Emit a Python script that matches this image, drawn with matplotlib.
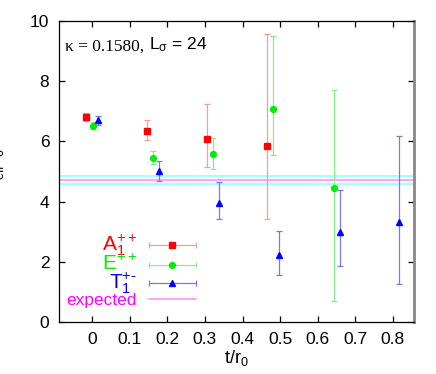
import numpy as np
import matplotlib
matplotlib.use('Agg')
import matplotlib.pyplot as plt
from matplotlib.legend_handler import HandlerErrorbar
from matplotlib.lines import Line2D

plt.rcParams['font.family'] = 'Liberation Sans'
plt.rcParams['mathtext.fontset'] = 'custom'
plt.rcParams['mathtext.rm'] = 'Liberation Sans'
plt.rcParams['mathtext.it'] = 'Liberation Sans'

# A1++ (red)
A_x = [-0.015, 0.145, 0.305, 0.465]
A_y = [6.80, 6.35, 6.07, 5.86]
A_lo = [6.67, 6.04, 5.16, 3.42]
A_hi = [6.95, 6.70, 7.23, 9.56]

# E++ (green)
E_x = [0.002, 0.161, 0.321, 0.481, 0.642]
E_y = [6.52, 5.44, 5.57, 7.08, 4.45]
E_lo = [6.40, 5.24, 5.07, 5.54, 0.69]
E_hi = [6.64, 5.67, 6.12, 9.49, 7.72]

# T1+- (blue)
T_x = [0.017, 0.177, 0.338, 0.497, 0.658, 0.817]
T_y = [6.71, 5.00, 3.96, 2.24, 2.98, 3.31]
T_lo = [6.53, 4.68, 3.41, 1.55, 1.87, 1.26]
T_hi = [6.84, 5.35, 4.64, 3.02, 4.37, 6.19]

expected = 4.72
expected_band = [4.59, 4.84]

xticks = [0, 0.1, 0.2, 0.3, 0.4, 0.5, 0.6, 0.7, 0.8]
xticklabels = ['0', '0.1', '0.2', '0.3', '0.4', '0.5', '0.6', '0.7', '0.8']
yticks = [0, 2, 4, 6, 8, 10]

fig = plt.figure(figsize=(4.36, 3.74), dpi=100)
ax = fig.add_axes([0.1353, 0.139, 0.8142, 0.8049])

for yb in expected_band:
    ax.axhline(yb, color='#88ffff', lw=1.1, zorder=1)
ax.axhline(expected, color='#ff88ff', lw=1.1, zorder=1)

def err(y, lo, hi):
    y = np.array(y); return [y - np.array(lo), np.array(hi) - y]

series = [
    (A_x, A_y, A_lo, A_hi, 's', '#ff0000', '#ff9999', r'$\mathregular{A_1^{++}}$'),
    (E_x, E_y, E_lo, E_hi, 'o', '#00ee00', '#88ee88', r'$\mathregular{E^{++}}$'),
    (T_x, T_y, T_lo, T_hi, '^', '#0000ff', '#7777ee', r'$\mathregular{T_1^{+\text{-}}}$'),
]
handles = []
labels = []
for x, y, lo, hi, m, c, ec, lab in series:
    ax.errorbar(x, y, yerr=err(y, lo, hi), fmt=m, ms=4.2, mfc=c, mec=c,
                ecolor=ec, elinewidth=0.9, capsize=2.2, capthick=0.9, zorder=3)
    h = ax.errorbar([np.nan], [np.nan], xerr=[np.nan], fmt=m, ms=4.2, mfc=c, mec=c,
                    ecolor=ec, elinewidth=0.9, capsize=2.2, capthick=0.9)
    handles.append(h)
    labels.append(lab)
handles.append(Line2D([], [], color='#ff88ff', lw=1.1))
labels.append('expected')

leg = ax.legend(handles, labels, loc='lower right', bbox_to_anchor=(0.41, 0.02),
                frameon=False, markerfirst=False, fontsize=12, handlelength=2.85,
                handletextpad=0.7, labelspacing=-0.22, borderpad=0,
                handler_map={type(handles[0]): HandlerErrorbar(xerr_size=1.4)})
for t, c, fs in zip(leg.get_texts(), ['#ff0000', '#00ee00', '#0000ff', '#ff00ff'],
                    [15, 15, 15, 12.5]):
    t.set_color(c)
    t.set_fontsize(fs)

t1 = ax.text(0.018, 0.903, u'\u03ba = 0.1580, ', transform=ax.transAxes,
             fontsize=12.5, family='Liberation Serif', va='baseline')
ax.annotate(r'$\mathregular{L_\sigma}$ = 24', xy=(1, 0), xycoords=t1,
            fontsize=12.5, va='bottom')

ax.set_xlim(-0.088, 0.856)
ax.set_ylim(0, 10)
ax.set_xticks(xticks)
ax.set_xticklabels(xticklabels)
ax.set_yticks(yticks)
ax.tick_params(direction='in', length=4, width=0.9, top=True, right=True,
               labelsize=12.5, pad=7, color='black')
ax.spines['right'].set_color('#888888')
ax.spines['right'].set_linewidth(2)
for s in ['left', 'bottom', 'top']:
    ax.spines[s].set_linewidth(0.9)

ax.set_xlabel(r'$\mathregular{t/r_0}$', fontsize=13, labelpad=1)
ax.set_ylabel(r'$\mathregular{m_{eff}\,r_0}$', fontsize=13)
ax.yaxis.set_label_coords(-0.148, 0.5)

fig.savefig('out.png', dpi=100)
